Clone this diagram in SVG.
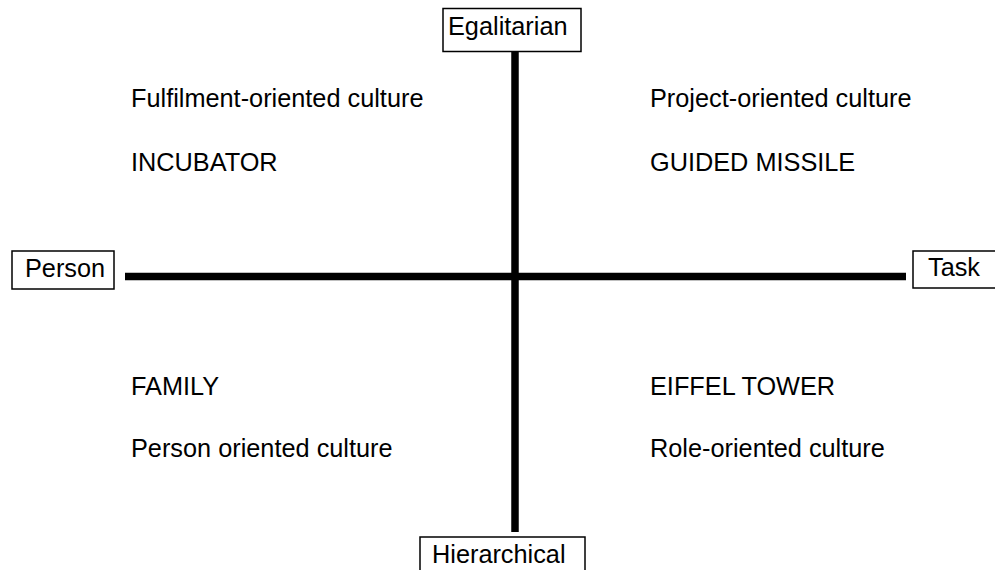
<svg xmlns="http://www.w3.org/2000/svg" width="995" height="570" viewBox="0 0 995 570">
<style>
text{font-family:"Liberation Sans",Arial,sans-serif;font-size:25.3px;fill:#000}
.box{fill:#fff;stroke:#000;stroke-width:1.5}
.axis{stroke:#000;stroke-width:7.5;fill:none}
</style>
<rect width="995" height="570" fill="#fff"/>
<g id="connectors">
<line class="axis" x1="515" y1="52" x2="515" y2="532"/>
<line class="axis" x1="125" y1="276.5" x2="906" y2="276.5"/>
</g>
<g id="egalitarian"><rect class="box" x="443" y="8.5" width="138" height="43"/><text x="448" y="35">Egalitarian</text></g>
<g id="hierarchical"><rect class="box" x="420" y="537" width="165" height="36"/><text x="432" y="563">Hierarchical</text></g>
<g id="person"><rect class="box" x="12" y="251" width="102" height="38"/><text x="25" y="277">Person</text></g>
<g id="task"><rect class="box" x="913" y="251" width="83" height="37"/><text x="928" y="276">Task</text></g>
<g id="q1"><text x="131" y="107">Fulfilment-oriented culture</text><text x="131" y="171">INCUBATOR</text></g>
<g id="q2"><text x="650" y="107">Project-oriented culture</text><text x="650" y="171">GUIDED MISSILE</text></g>
<g id="q3"><text x="131" y="395">FAMILY</text><text x="131" y="457">Person oriented culture</text></g>
<g id="q4"><text x="650" y="395">EIFFEL TOWER</text><text x="650" y="457">Role-oriented culture</text></g>
</svg>
